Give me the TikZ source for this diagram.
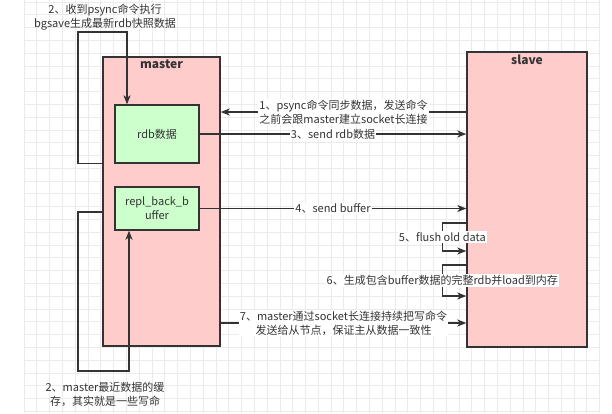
\documentclass[tikz,border=0pt]{standalone}
\usepackage{fontspec}
\setmainfont{Noto Sans CJK SC}
\usetikzlibrary{arrows.meta,positioning}
\definecolor{inkgray}{HTML}{333333}
\definecolor{gridgray}{HTML}{EBEBEB}
\definecolor{redfill}{HTML}{FFCCCC}
\definecolor{greenfill}{HTML}{CCFFCC}
\tikzset{
  gridline/.style={draw=gridgray, line width=0.6pt},
  bigbox/.style={draw=inkgray, fill=redfill, line width=1.4pt, inner sep=0pt},
  databox/.style={draw=inkgray, fill=greenfill, line width=1.4pt, inner sep=0pt,
    minimum width=84pt, text=inkgray, align=center, font=\fontsize{11}{14}\selectfont},
  boxtitle/.style={text=inkgray, inner sep=0pt, font=\fontsize{12}{14}\selectfont\bfseries},
  arr/.style={draw=inkgray, line width=1.2pt, -{Stealth[length=9pt,width=7pt,inset=2.5pt]}},
  lbl/.style={fill=white, text=inkgray, inner sep=1pt, align=center,
    font=\fontsize{11}{14}\selectfont},
  note/.style={text=inkgray, inner sep=0pt, align=center, font=\fontsize{11}{14}\selectfont}
}
\begin{document}
\begin{tikzpicture}[x=1pt,y=-1pt]
  \useasboundingbox (0,0) rectangle (612,413);
  % background grid
  \foreach \i in {0,...,45} {
    \draw[gridline] ({24+12.79*\i},0) -- ({24+12.79*\i},413);
  }
  \foreach \j in {0,...,32} {
    \draw[gridline] (24,{1.9+12.79*\j}) -- (600,{1.9+12.79*\j});
  }
  % master and slave
  \node[bigbox, minimum width=117pt, minimum height=289pt] (master) at (161.5,201.5) {};
  \node[boxtitle, below=3pt of master.north] (mastertitle) {master};
  \node[bigbox, minimum width=120pt, minimum height=295pt] (slave) at (527,199.5) {};
  \node[boxtitle, below=3pt of slave.north] (slavetitle) {slave};
  % data inside master
  \node[databox, minimum height=58pt] (rdb) at (157,134) {rdb数据};
  \node[databox, minimum height=43pt] (repl) at (157,208.5) {repl\_back\_b\\uffer};
  % notes of step 2
  \node[note] (notetop) at (105,17) {2、收到psync命令执行\\bgsave生成最新rdb快照数据};
  \node[note] (notebottom) at (105,394) {2、master最近数据的缓\\存，其实就是一些写命};
  \coordinate (looptop) at (78,32);
  \coordinate (loopbottom) at (78,371);
  % loops on master
  \draw[arr] (master.west |- rdb.south) -| (looptop) -| ([xshift=-30pt]rdb.north);
  \draw[arr] (master.west |- 0,212) -| (loopbottom) -| ([xshift=-28pt]repl.south);
  % master <-> slave
  \draw[arr] (slave.west |- 0,112) -- (master.east |- 0,112)
    node[midway, lbl] {1、psync命令同步数据，发送命令\\之前会跟master建立socket长连接};
  \draw[arr] (rdb.east) -- (slave.west |- rdb.east)
    node[midway, lbl] {3、send rdb数据};
  \draw[arr] (repl.east) -- (slave.west |- repl.east)
    node[midway, lbl] {4、send buffer};
  \draw[arr] (master.east |- 0,323) -- (slave.west |- 0,323)
    node[midway, lbl] {7、master通过socket长连接持续把写命令\\发送给从节点，保证主从数据一致性};
  % loops on slave
  \draw[arr] (slave.west |- 0,223) -- ++(-24,0) |- node[pos=0.25, lbl] {5、flush old data} (slave.west |- 0,251);
  \draw[arr] (slave.west |- 0,265) -- ++(-24,0) |- node[pos=0.25, lbl] {6、生成包含buffer数据的完整rdb并load到内存} (slave.west |- 0,296);
\end{tikzpicture}
\end{document}
